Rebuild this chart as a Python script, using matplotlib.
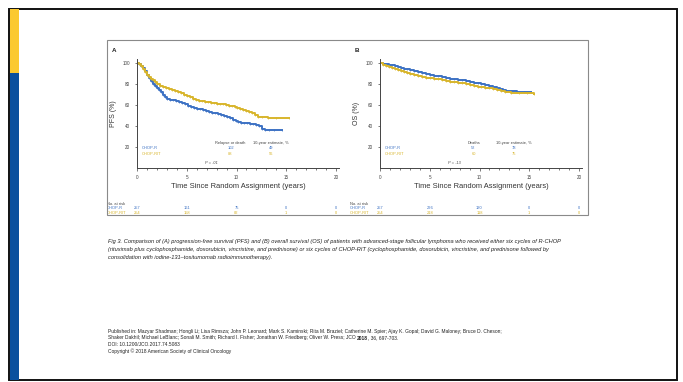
import numpy as np
import matplotlib
matplotlib.use('Agg')
import matplotlib.pyplot as plt
from matplotlib.patches import Rectangle

plt.rcParams['font.family'] = ['Liberation Sans', 'DejaVu Sans']

W, H = 683, 382

# Kaplan-Meier step data, years / percent
pfs_r_t = [0, 0.2, 0.4, 0.6, 0.8, 1.0, 1.2, 1.4, 1.6, 1.8, 2.0, 2.2, 2.4, 2.6, 2.8, 3.0, 3.3, 3.6, 3.9,
           4.2, 4.5, 4.8, 5.1, 5.4, 5.7, 6.0, 6.3, 6.6, 6.9, 7.2, 7.5, 7.8, 8.1, 8.4, 8.7, 9.0, 9.3,
           9.6, 9.9, 10.2, 10.5, 10.8, 11.1, 11.4, 11.7, 12.0, 12.3, 12.6, 12.9, 13.3, 13.8, 14.6]
pfs_r_v = [100, 99, 97, 95, 92, 89, 86, 83, 80, 78, 76, 74, 72, 70, 68, 66, 65, 64.5, 63.5,
           62.5, 61.5, 60.5, 59.5, 58.5, 57.5, 56.5, 56, 55, 54.5, 53.5, 52.5, 52, 51, 50.5, 49.5, 48.5, 47.5,
           46, 44.5, 43.5, 43, 42.5, 42.5, 42, 41.5, 41, 40, 37.5, 36.5, 36, 36, 36]
pfs_rit_t = [0, 0.2, 0.4, 0.6, 0.8, 1.0, 1.2, 1.4, 1.6, 1.8, 2.0, 2.3, 2.6, 2.9, 3.2, 3.5, 3.8,
             4.1, 4.4, 4.7, 5.0, 5.3, 5.6, 5.9, 6.2, 6.5, 6.8, 7.1, 7.4, 7.7, 8.0, 8.3, 8.6, 8.9,
             9.2, 9.5, 9.8, 10.1, 10.4, 10.7, 11.0, 11.3, 11.6, 11.9, 12.2, 12.6, 13.2, 14.0, 15.3]
pfs_rit_v = [100, 99, 97, 94, 91, 89, 87, 85, 84, 82, 80, 78, 77, 76, 75, 74, 73,
             72, 71, 70, 69, 67.5, 66, 65, 64, 63.5, 63, 62.5, 62, 61.5, 61, 61, 60.5, 60,
             59.5, 59, 58.5, 57.5, 56.5, 55.5, 54.5, 53, 52, 50.5, 49, 48.5, 48, 48, 48]

os_r_t = [0, 0.3, 0.6, 0.9, 1.2, 1.5, 1.8, 2.1, 2.4, 2.7, 3.0, 3.4, 3.8, 4.2, 4.6, 5.0, 5.4, 5.8,
          6.2, 6.6, 7.0, 7.4, 7.8, 8.2, 8.6, 9.0, 9.4, 9.8, 10.2, 10.6, 11.0, 11.4, 11.8, 12.1,
          12.4, 12.7, 13.2, 13.8, 14.5, 15.2]
os_r_v = [100, 99.5, 99, 98.5, 98, 97, 96.5, 95.5, 94.5, 94, 93, 92, 91.5, 90.5, 89.5, 88.5, 88, 87.5,
          86.5, 86, 85, 84.5, 84, 83.5, 82.5, 82, 81, 80.5, 80, 79, 78, 77.5, 76.5, 75,
          74, 73, 73, 72.5, 72.5, 72]
os_rit_t = [0, 0.3, 0.6, 0.9, 1.2, 1.5, 1.8, 2.1, 2.4, 2.7, 3.0, 3.4, 3.8, 4.2, 4.6, 5.0, 5.4, 5.8,
            6.2, 6.6, 7.0, 7.4, 7.8, 8.2, 8.6, 9.0, 9.4, 9.8, 10.2, 10.6, 11.0, 11.4, 11.8, 12.2,
            12.6, 13.2, 14.0, 14.8, 15.5]
os_rit_v = [100, 98.5, 97, 96, 95, 94, 93, 92, 91, 90.5, 89.5, 88.5, 87.5, 87, 86, 85.5, 85, 84.5,
            84, 83, 82, 81.5, 81, 80.5, 80, 79, 78.5, 77.5, 77, 76.5, 76, 75, 74, 73,
            72, 71.5, 71, 71, 70.5]

arms = ['CHOP-R', 'CHOP-RIT']
risk_years = [0, 5, 10, 15, 20]
pfs_at_risk = [[257, 161, 75, 0, 0], [254, 158, 82, 1, 0]]
os_at_risk = [[257, 226, 130, 0, 0], [254, 218, 118, 1, 0]]
pfs_events = ['102', '88']
pfs_10yr = ['49', '56']
os_deaths = ['52', '60']
os_10yr = ['78', '75']

BLUE = '#3d72c4'
GOLD = '#d8b52c'
GREY = '#444444'


def px(x, y):
    return x / W, 1 - y / H


def make_panel(fig, left, letter, ylabel, curves, event_head, events, est, pval, at_risk):
    bottom = 168
    ax = fig.add_axes([left / W, 1 - bottom / H, 20.3 * 9.95 / W, 104 * 1.05 / H])
    ax.set_xlim(0, 20.3)
    ax.set_ylim(0, 104)
    for s in ['top', 'right']:
        ax.spines[s].set_visible(False)
    for s in ['left', 'bottom']:
        ax.spines[s].set_color(GREY)
        ax.spines[s].set_linewidth(0.7)
    ax.set_xticks(risk_years)
    ax.set_xticks(np.arange(0, 21), minor=True)
    ax.set_yticks([20, 40, 60, 80, 100])
    ax.tick_params(which='both', colors=GREY, length=1.8, width=0.5, labelsize=3.3, pad=3)
    ax.tick_params(which='minor', length=1.2)
    ax.set_xlabel('Time Since Random Assignment (years)', fontsize=5.4, color='#333333', labelpad=2.5)
    ax.set_ylabel(ylabel, fontsize=5, color='#333333', labelpad=4)

    for (t, v), c in zip(curves, [BLUE, GOLD]):
        ax.plot(t, v, drawstyle='steps-post', color=c, lw=1.4,
                marker='|', markersize=2, markeredgewidth=0.5)

    # inline legend
    fs = 2.9
    ax.text(0.5, 19, arms[0], color=BLUE, fontsize=fs, va='center')
    ax.text(0.5, 13.5, arms[1], color=GOLD, fontsize=fs, va='center')
    ax.text(9.4, 24, event_head, color=GREY, fontsize=fs, ha='center', va='center')
    ax.text(13.5, 24, '10-year estimate, %', color=GREY, fontsize=fs, ha='center', va='center')
    for i, c in enumerate([BLUE, GOLD]):
        y = 19 - 5.5 * i
        ax.text(9.4, y, events[i], color=c, fontsize=fs, ha='center', va='center')
        ax.text(13.5, y, est[i], color=c, fontsize=fs, ha='center', va='center')
    ax.text(7.5, 5, pval, color=GREY, fontsize=fs, ha='center', va='center', style='italic')

    # numbers at risk table below the axis
    ax.text(-3, -34, 'No. at risk', color=GREY, fontsize=fs, va='center', clip_on=False)
    for i, c in enumerate([BLUE, GOLD]):
        y = -38.5 - 4 * i
        ax.text(-3, y, arms[i], color=c, fontsize=fs, va='center', clip_on=False)
        for yr, n in zip(risk_years, at_risk[i]):
            ax.text(yr, y, str(n), color=c, fontsize=fs, ha='center', va='center', clip_on=False)

    fx, fy = px(left - 25, 50)
    fig.text(fx, fy, letter, fontsize=4.5, fontweight='bold', color='#222222', va='center')
    return ax


fig = plt.figure(figsize=(W / 100, H / 100), dpi=100)
fig.patch.set_facecolor('white')

# slide frame and side bar
fig.add_artist(Rectangle(px(8.5, 379.5), 668 / W, 371 / H, transform=fig.transFigure,
                         fill=False, edgecolor='#111111', lw=1.4))
fig.add_artist(Rectangle(px(10, 380), 9 / W, 307 / H, transform=fig.transFigure,
                         facecolor='#0a509e', edgecolor='none'))
fig.add_artist(Rectangle(px(10, 73), 9 / W, 64 / H, transform=fig.transFigure,
                         facecolor='#fbc92f', edgecolor='none'))

# figure box
fig.add_artist(Rectangle(px(107, 215), 481 / W, 175 / H, transform=fig.transFigure,
                         fill=False, edgecolor='#8a8a8a', lw=0.8))

make_panel(fig, 137, 'A', 'PFS (%)', [(pfs_r_t, pfs_r_v), (pfs_rit_t, pfs_rit_v)],
           'Relapse or death', pfs_events, pfs_10yr, 'P = .01', pfs_at_risk)
make_panel(fig, 380, 'B', 'OS (%)', [(os_r_t, os_r_v), (os_rit_t, os_rit_v)],
           'Deaths', os_deaths, os_10yr, 'P = .13', os_at_risk)

caption = [
    'Fig 3. Comparison of (A) progression-free survival (PFS) and (B) overall survival (OS) of patients with '
    'advanced-stage follicular lymphoma who received either six cycles of R-CHOP',
    '(rituximab plus cyclophosphamide, doxorubicin, vincristine, and prednisone) or six cycles of CHOP-RIT '
    '(cyclophosphamide, doxorubicin, vincristine, and prednisone followed by',
    'consolidation with iodine-131\u2013tositumomab radioimmunotherapy).',
]
for i, line in enumerate(caption):
    fx, fy = px(108, 241 + 8 * i)
    fig.text(fx, fy, line, fontsize=4.1, style='italic', color='#222222', va='center')

CITE = 3.55
fx, fy = px(108, 331)
fig.text(fx, fy, 'Published in: Mazyar Shadman; Hongli Li; Lisa Rimsza; John P. Leonard; Mark S. Kaminski; '
         'Rita M. Braziel; Catherine M. Spier; Ajay K. Gopal; David G. Maloney; Bruce D. Cheson;',
         fontsize=CITE, color='#222222', va='center')

# second author line has the year in bold
fig.canvas.draw()
renderer = fig.canvas.get_renderer()
fx, fy = px(108, 338)
parts = [('Shaker Dakhil; Michael LeBlanc; Sonali M. Smith; Richard I. Fisher; Jonathan W. Friedberg; '
          'Oliver W. Press; JCO ', 'normal'), ('2018', 'bold'), (', 36, 697-703.', 'normal')]
x0 = fx
for s, wgt in parts:
    t = fig.text(x0, fy, s, fontsize=CITE, fontweight=wgt, color='#222222', va='center')
    bb = t.get_window_extent(renderer)
    x0 = bb.x1 / W

fx, fy = px(108, 344.5)
fig.text(fx, fy, 'DOI: 10.1200/JCO.2017.74.5083', fontsize=CITE, color='#222222', va='center')
fx, fy = px(108, 351)
fig.text(fx, fy, 'Copyright \u00a9 2018 American Society of Clinical Oncology', fontsize=CITE,
         color='#222222', va='center')

fig.savefig('out.png', dpi=100)
